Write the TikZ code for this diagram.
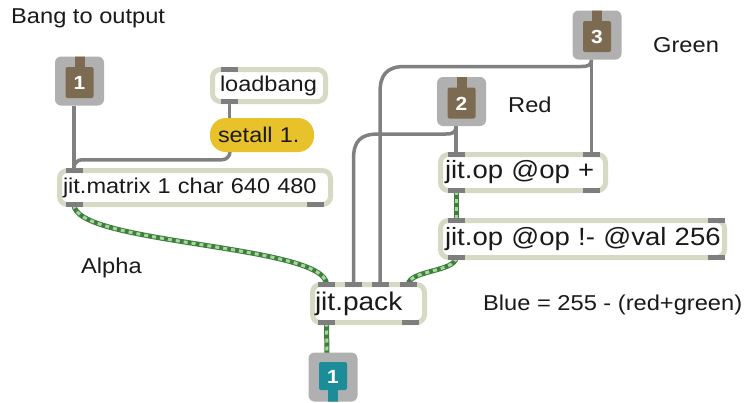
\documentclass[tikz,border=0pt]{standalone}
\usepackage{fontspec}
\setmainfont{Liberation Sans}[FakeStretch=1.1]
\usetikzlibrary{calc}
\definecolor{bord}{HTML}{D6DAC4}
\definecolor{tabc}{HTML}{7E7E7E}
\definecolor{cablec}{HTML}{808080}
\definecolor{gdark}{HTML}{3F7E3F}
\definecolor{glight}{HTML}{A6D89E}
\definecolor{ioboxc}{HTML}{B0B0B0}
\definecolor{brownc}{HTML}{7D6B51}
\definecolor{tealc}{HTML}{1C8C98}
\definecolor{yell}{HTML}{E8C22A}
\definecolor{labc}{HTML}{1A1A1A}
\pgfdeclarelayer{bg}
\pgfdeclarelayer{cab}
\pgfsetlayers{bg,cab,main}
\newcommand\maxtab[1]{\fill[tabc] ($(#1)+(-8.5,-2.5)$) rectangle ($(#1)+(8.5,2.5)$);}
\tikzset{
  objbox/.style={rectangle, draw=bord, line width=5pt, fill=white, rounded corners=8pt,
    align=left, inner ysep=0pt, outer sep=0pt, text=labc, font=\fontsize{#1}{#1}\selectfont},
  msgbox/.style={rectangle, fill=yell, rounded corners=16pt, minimum width=104pt, minimum height=34pt,
    text width=88pt, inner xsep=8pt, inner ysep=0pt, outer sep=0pt, align=left, text=labc,
    font=\fontsize{21.3}{21.3}\selectfont},
  iobox/.style={rectangle, fill=ioboxc, rounded corners=6pt, minimum width=49pt, minimum height=49pt,
    inner sep=0pt, outer sep=0pt, text=white, text depth=0pt, font=\bfseries\fontsize{19}{19}\selectfont},
  inletbox/.style={iobox, text height=17.7pt, path picture={
    \fill[brownc, rounded corners=2pt] ($(path picture bounding box.center)+(-14,-14)$) rectangle ($(path picture bounding box.center)+(14,17)$);
    \fill[brownc, sharp corners] ($(path picture bounding box.center)+(-5,-25)$) rectangle ($(path picture bounding box.center)+(5,-13)$);}},
  outletbox/.style={iobox, text height=13.7pt, path picture={
    \fill[tealc, rounded corners=2pt] ($(path picture bounding box.center)+(-14,-15)$) rectangle ($(path picture bounding box.center)+(14,13)$);
    \fill[tealc, sharp corners] ($(path picture bounding box.center)+(-5,12)$) rectangle ($(path picture bounding box.center)+(5,25)$);}},
  cable/.style={draw=cablec, line width=3.5pt},
  gcable/.style={draw=gdark, line width=5pt, postaction={draw=glight, line width=3pt, dash pattern=on 4pt off 4pt}},
  lbl/.style={font=\fontsize{21.5}{24}\selectfont, text=labc, inner sep=0pt, anchor=base west}
}
\begin{document}
\begin{tikzpicture}[x=1pt,y=-1pt]
\begin{pgfonlayer}{bg}
\fill[white] (0,0) rectangle (746,402);
\end{pgfonlayer}
\useasboundingbox (0,0) rectangle (746,402);

% inlets / outlet
\node[inletbox] (in1) at (79.5,81) {1};
\node[inletbox] (in2) at (461.5,101.5) {2};
\node[inletbox] (in3) at (597,35) {3};
\node[outletbox] (out1) at (333,377) {1};

% objects
\node[objbox=21.4, minimum width=113pt, minimum height=32pt, inner xsep=7.5pt, text width=98pt] (loadbang) at (269,85.5) {\mbox{loadbang}};
\node[msgbox] (setall) at (262,135) {\mbox{setall 1.}};
\node[objbox=21.4, minimum width=271pt, minimum height=34pt, inner xsep=3.5pt, text width=264pt] (matrix) at (195,187.5) {\mbox{jit.matrix 1 char 640 480}};
\node[objbox=25, minimum width=165pt, minimum height=36pt, inner xsep=4.5pt, text width=156pt] (op1) at (523,172.5) {\mbox{jit.op @op +}};
\node[objbox=25, minimum width=284pt, minimum height=37pt, inner xsep=4.5pt, text width=275pt] (op2) at (582.5,239) {\mbox{jit.op @op !- @val 256}};
\node[objbox=25.5, minimum width=112pt, minimum height=38pt, inner xsep=2.5pt, text width=107pt] (pack) at (368.5,303.5) {\mbox{jit.pack}};

% labels
\node[lbl] (lbang) at (11,23) {Bang to output};
\node[lbl] (lgreen) at (653,52) {Green};
\node[lbl] (lred) at (508,112) {Red};
\node[lbl] (lalpha) at (81,273) {Alpha};
\node[lbl] (lblue) at (483,310) {Blue = 255 - (red+green)};

% ports
\coordinate (lb-i) at ($(loadbang.north west)+(17,0)$);
\coordinate (lb-o) at ($(loadbang.south west)+(17,0)$);
\coordinate (set-i) at ($(setall.north west)+(19.5,4)$);
\coordinate (set-o) at ($(setall.south west)+(20,-3)$);
\coordinate (mat-i) at ($(matrix.north west)+(14.5,0)$);
\coordinate (mat-o0) at ($(matrix.south west)+(14.5,0)$);
\coordinate (mat-o1) at ($(matrix.south east)+(-15.5,0)$);
\coordinate (op1-i0) at ($(op1.north west)+(15.5,0)$);
\coordinate (op1-i1) at ($(op1.north east)+(-14,0)$);
\coordinate (op1-o0) at ($(op1.south west)+(15.5,0)$);
\coordinate (op1-o1) at ($(op1.south east)+(-14,0)$);
\coordinate (op2-i0) at ($(op2.north west)+(15.5,0)$);
\coordinate (op2-i1) at ($(op2.north east)+(-8.5,0)$);
\coordinate (op2-o0) at ($(op2.south west)+(15.5,0)$);
\coordinate (op2-o1) at ($(op2.south east)+(-8.5,0)$);
\coordinate (pk-i0) at ($(pack.north west)+(14,0)$);
\coordinate (pk-i1) at ($(pack.north west)+(41,0)$);
\coordinate (pk-i2) at ($(pack.north west)+(67.5,0)$);
\coordinate (pk-i3) at ($(pack.north west)+(96,0)$);
\coordinate (pk-o0) at ($(pack.south west)+(14,0)$);
\coordinate (pk-o1) at ($(pack.south east)+(-14.5,0)$);
\coordinate (in1-o) at ($(in1.south)+(-5.5,0)$);
\coordinate (in2-o) at ($(in2.south)+(-5.5,0)$);
\coordinate (in3-o) at ($(in3.south)+(-5.5,0)$);
\coordinate (out1-i) at ($(out1.north)+(-6,4)$);

% cables
\begin{pgfonlayer}{cab}
\draw[cable] (in1-o) -- (mat-i);
\draw[cable] (lb-o) -- (set-i);
\draw[cable, rounded corners=8pt] (set-o) |- ($(set-o)!0.5!(mat-i)$) -| (mat-i);
\draw[cable] (in2-o) -- (op1-i0);
\draw[cable] (in2-o) .. controls +(0,7) and +(6,0) .. ($(in2-o)+(-10,8)$) -- ($(pk-i1 |- in2-o)+(25,8)$) .. controls +(-18,0) and +(0,-18) .. ($(pk-i1 |- in2-o)+(0,33)$) -- (pk-i1);
\draw[cable] (in3-o) -- (op1-i1);
\draw[cable] (in3-o) .. controls +(0,6) and +(6,0) .. ($(in3-o)+(-10,7)$) -- ($(pk-i2 |- in3-o)+(25,7)$) .. controls +(-18,0) and +(0,-18) .. ($(pk-i2 |- in3-o)+(0,33)$) -- (pk-i2);
\draw[gcable] (mat-o0) .. controls +(0,40) and +(0,-40) .. (pk-i0);
\draw[gcable] (op1-o0) -- (op2-i0);
\draw[gcable] (op2-o0) .. controls +(0,14) and +(0,-14) .. (pk-i3);
\draw[gcable] (pk-o0) -- (out1-i);
\end{pgfonlayer}

% port tabs
\foreach \c in {lb-i,lb-o,mat-i,mat-o0,mat-o1,op1-i0,op1-i1,op1-o0,op1-o1,op2-i0,op2-i1,op2-o0,op2-o1,pk-i0,pk-i1,pk-i2,pk-i3,pk-o0,pk-o1} {\maxtab{\c}}
\end{tikzpicture}
\end{document}
